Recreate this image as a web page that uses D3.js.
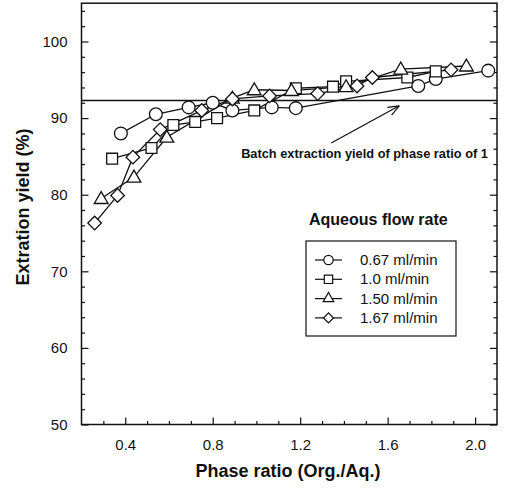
<!DOCTYPE html>
<html>
<head>
<meta charset="utf-8">
<script src="https://cdn.jsdelivr.net/npm/d3@7"></script>
<style>
  body { margin: 0; background: white; }
  svg { display: block; font-family: "Liberation Sans", Arial, sans-serif; }
</style>
</head>
<body>
<div id="chart"></div>
<script>
// flow rate series (phase ratio, extraction yield %)
var seriesNames = ["0.67 ml/min", "1.0 ml/min", "1.50 ml/min", "1.67 ml/min"];
var seriesShapes = ["circle", "square", "triangle", "diamond"];

var flow067 = [[0.38, 88.0], [0.54, 90.5], [0.69, 91.4], [0.80, 92.0], [0.89, 91.0],
  [1.07, 91.4], [1.18, 91.3], [1.74, 94.2], [1.82, 95.1], [2.06, 96.2]];
var flow100 = [[0.34, 84.7], [0.52, 86.1], [0.62, 89.1], [0.72, 89.5], [0.82, 90.0],
  [0.99, 91.0], [1.18, 93.9], [1.35, 94.1], [1.41, 94.8], [1.69, 95.3], [1.82, 96.1]];
var flow150 = [[0.29, 79.5], [0.44, 82.3], [0.59, 87.5], [0.89, 92.6], [0.99, 93.7],
  [1.16, 93.6], [1.41, 94.1], [1.66, 96.4], [1.96, 96.8]];
var flow167 = [[0.26, 76.3], [0.365, 79.9], [0.435, 84.9], [0.56, 88.5], [0.75, 91.0],
  [0.89, 92.5], [1.06, 92.9], [1.28, 93.2], [1.46, 94.2], [1.53, 95.3], [1.89, 96.3]];

var batchYield = 92.3;   // horizontal reference line
var xTicks = [0.4, 0.8, 1.2, 1.6, 2.0];
var yTicks = [50, 60, 70, 80, 90, 100];

function init() {
  var width = 505, height = 488;
  var left = 81.5, right = 497, top = 3.2, bottom = 424.5;

  var svg = d3.select("#chart")
    .append("svg")
    .attr("width", width)
    .attr("height", height);

  var xScale = d3.scaleLinear().domain([0.2, 2.1]).range([left, right]);
  var yScale = d3.scaleLinear().domain([50, 105]).range([bottom, top]);

  var xMinor = d3.range(3, 21).map(function(d) { return d / 10; }).filter(function(d) { return xTicks.indexOf(d) < 0; });
  var yMinor = d3.range(52, 105, 2).filter(function(d) { return d % 10 != 0; });

  // minor ticks first, then majors with labels (ticks point inward)
  svg.append("g")
    .attr("transform", "translate(0," + bottom + ")")
    .call(d3.axisBottom(xScale).tickValues(xMinor).tickSize(-3.5).tickFormat(""));
  svg.append("g")
    .attr("transform", "translate(0," + bottom + ")")
    .call(d3.axisBottom(xScale).tickValues(xTicks).tickSize(-7).tickPadding(15).tickFormat(d3.format(".1f")));

  svg.append("g")
    .attr("transform", "translate(" + left + ",0)")
    .call(d3.axisLeft(yScale).tickValues(yMinor).tickSize(-3.5).tickFormat(""));
  svg.append("g")
    .attr("transform", "translate(" + left + ",0)")
    .call(d3.axisLeft(yScale).tickValues(yTicks).tickSize(-7).tickPadding(14).tickFormat(d3.format("d")));

  svg.append("g")
    .attr("transform", "translate(" + right + ",0)")
    .call(d3.axisRight(yScale).tickValues(yMinor).tickSize(-3.5).tickFormat(""));
  svg.append("g")
    .attr("transform", "translate(" + right + ",0)")
    .call(d3.axisRight(yScale).tickValues(yTicks).tickSize(-7).tickFormat(""));

  svg.selectAll(".domain").remove();
  svg.selectAll(".tick line").attr("stroke", "#111").attr("stroke-width", 1.2);
  svg.selectAll(".tick text")
    .attr("fill", "#111")
    .style("font-size", "15px")
    .style("font-family", "'Liberation Sans', Arial, sans-serif");

  // frame
  svg.append("rect")
    .attr("x", left)
    .attr("y", top)
    .attr("width", right - left)
    .attr("height", bottom - top)
    .style("fill", "none")
    .style("stroke", "#111")
    .style("stroke-width", 1.5);

  // batch yield reference line
  svg.append("line")
    .attr("x1", left)
    .attr("x2", right)
    .attr("y1", yScale(batchYield))
    .attr("y2", yScale(batchYield))
    .style("stroke", "#111")
    .style("stroke-width", 1.3);

  var symbolFor = {
    circle: d3.symbol().type(d3.symbolCircle).size(128),
    square: d3.symbol().type(d3.symbolSquare).size(118),
    triangle: d3.symbol().type(d3.symbolTriangle).size(82),
    diamond: d3.symbol().type(d3.symbolSquare).size(92)
  };

  var line = d3.line()
    .x(function(d) { return xScale(d[0]); })
    .y(function(d) { return yScale(d[1]); });

  var allSeries = [flow067, flow100, flow150, flow167];

  allSeries.forEach(function(data, i) {
    svg.append("path")
      .datum(data)
      .attr("d", line)
      .style("fill", "none")
      .style("stroke", "#111")
      .style("stroke-width", 1.3);
  });

  allSeries.forEach(function(data, i) {
    var shape = seriesShapes[i];
    svg.selectAll("path.m" + i)
      .data(data)
      .enter()
      .append("path")
      .attr("class", "m" + i)
      .attr("d", symbolFor[shape])
      .attr("transform", function(d) {
        var t = "translate(" + xScale(d[0]) + "," + yScale(d[1]) + ")";
        if (shape == "diamond") t += " rotate(45)";
        if (shape == "triangle") t += " translate(0,1)";
        return t;
      })
      .style("fill", "white")
      .style("stroke", "#111")
      .style("stroke-width", 1.3);
  });

  // annotation + arrow
  var ax0 = xScale(1.342), ay0 = yScale(86.75);
  var ax1 = xScale(1.653), ay1 = yScale(91.6);
  svg.append("line")
    .attr("x1", ax0).attr("y1", ay0)
    .attr("x2", ax1).attr("y2", ay1)
    .style("stroke", "#111")
    .style("stroke-width", 1.2);
  var ang = Math.atan2(ay1 - ay0, ax1 - ax0);
  var headLen = 12;
  [-0.38, 0.38].forEach(function(off) {
    svg.append("line")
      .attr("x1", ax1).attr("y1", ay1)
      .attr("x2", ax1 - headLen * Math.cos(ang + off))
      .attr("y2", ay1 - headLen * Math.sin(ang + off))
      .style("stroke", "#111")
      .style("stroke-width", 1.2);
  });

  svg.append("text")
    .attr("x", xScale(0.93))
    .attr("y", yScale(84.8))
    .style("font-size", "12.8px")
    .style("font-weight", "bold")
    .style("fill", "#111")
    .text("Batch extraction yield of phase ratio of 1");

  // legend
  var legend = svg.append("g");
  legend.append("text")
    .attr("x", 309)
    .attr("y", 225)
    .style("font-size", "16px")
    .style("font-weight", "bold")
    .style("fill", "#111")
    .text("Aqueous flow rate");

  legend.append("rect")
    .attr("x", 306)
    .attr("y", 241)
    .attr("width", 150)
    .attr("height", 95)
    .style("fill", "white")
    .style("stroke", "#111")
    .style("stroke-width", 1.2);

  seriesNames.forEach(function(name, i) {
    var cy = 260 + i * 19.3;
    var shape = seriesShapes[i];
    legend.append("line")
      .attr("x1", 315).attr("x2", 342)
      .attr("y1", cy).attr("y2", cy)
      .style("stroke", "#111")
      .style("stroke-width", 1.2);
    var sym = d3.symbol().type(shape == "circle" ? d3.symbolCircle : shape == "triangle" ? d3.symbolTriangle : d3.symbolSquare)
      .size(shape == "triangle" ? 48 : shape == "diamond" ? 50 : 70);
    legend.append("path")
      .attr("d", sym)
      .attr("transform", "translate(328.5," + cy + ")" + (shape == "diamond" ? " rotate(45)" : ""))
      .style("fill", "white")
      .style("stroke", "#111")
      .style("stroke-width", 1.2);
    legend.append("text")
      .attr("x", 360)
      .attr("y", cy + 5)
      .style("font-size", "15px")
      .style("fill", "#111")
      .text(name);
  });

  // axis titles
  svg.append("text")
    .attr("x", 288)
    .attr("y", 477)
    .attr("text-anchor", "middle")
    .style("font-size", "18px")
    .style("font-weight", "bold")
    .style("fill", "#111")
    .text("Phase ratio (Org./Aq.)");

  svg.append("text")
    .attr("transform", "translate(29,207) rotate(-90)")
    .attr("text-anchor", "middle")
    .style("font-size", "18px")
    .style("font-weight", "bold")
    .style("fill", "#111")
    .text("Extration yield (%)");
}

window.onload = init;
</script>
</body>
</html>
